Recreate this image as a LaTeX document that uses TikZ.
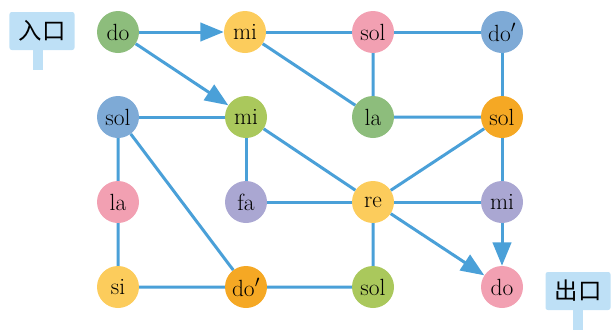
\documentclass[tikz,border=0pt]{standalone}
\usepackage{fontspec}
\newfontfamily\cjkfont{Noto Sans CJK SC}
\usetikzlibrary{arrows.meta}

\definecolor{linkblue}{RGB}{74,160,216}
\definecolor{tagblue}{RGB}{190,224,246}
\definecolor{cgreen}{RGB}{141,189,124}
\definecolor{cyellow}{RGB}{252,204,92}
\definecolor{cpink}{RGB}{242,160,178}
\definecolor{cblue}{RGB}{126,170,214}
\definecolor{clime}{RGB}{170,200,92}
\definecolor{corange}{RGB}{245,168,36}
\definecolor{clilac}{RGB}{170,167,210}

\tikzset{
    note/.style={circle, minimum size=1.26cm, inner sep=0pt,
        font=\fontsize{20}{22}\selectfont},
    link/.style={linkblue, line width=0.09cm},
    go/.style={link, -{Triangle[length=0.7cm,width=0.55cm]}},
    tag/.style={fill=tagblue, rounded corners=2pt, minimum width=1.95cm,
        minimum height=1.14cm, font=\cjkfont\fontsize{20}{22}\selectfont}
}

\begin{document}
\begin{tikzpicture}[x=0.03cm, y=-0.03cm]

    % Fix the frame to the size of the original picture
    \useasboundingbox (0, 0) rectangle (612, 330);

    % Entrance and exit labels with their small stems
    \fill[tagblue] (33, 45) rectangle (43, 70);
    \node[tag] (in) at (42, 31) {入口};
    \fill[tagblue] (573, 300) rectangle (583, 330);
    \node[tag] (out) at (578, 291) {出口};

    % First row of notes
    \node[note, fill=cgreen] (do1) at (118, 32) {do};
    \node[note, fill=cyellow] (mi1) at (245, 32) {mi};
    \node[note, fill=cpink] (sol1) at (373, 32) {sol};
    \node[note, fill=cblue] (dop1) at (502, 32) {do$'$};

    % Second row of notes
    \node[note, fill=cblue] (sol2) at (118, 117) {sol};
    \node[note, fill=clime] (mi2) at (246, 117) {mi};
    \node[note, fill=cgreen] (la2) at (373, 117) {la};
    \node[note, fill=corange] (sol3) at (502, 117) {sol};

    % Third row of notes
    \node[note, fill=cpink] (la1) at (118, 202) {la};
    \node[note, fill=clilac] (fa) at (246, 202) {fa};
    \node[note, fill=cyellow] (re) at (373, 202) {re};
    \node[note, fill=clilac] (mi3) at (502, 202) {mi};

    % Fourth row of notes
    \node[note, fill=cyellow] (si) at (118, 287) {si};
    \node[note, fill=corange] (dop2) at (246, 287) {do$'$};
    \node[note, fill=clime] (sol4) at (373, 287) {sol};
    \node[note, fill=cpink] (do2) at (502, 287) {do};

    % Plain connections between the notes
    \draw[link] (mi1) -- (sol1) -- (dop1) -- (sol3) -- (mi3) -- (re);
    \draw[link] (mi1) -- (la2) -- (sol1);
    \draw[link] (la2) -- (sol3) -- (re);
    \draw[link] (sol2) -- (mi2) -- (fa) -- (re);
    \draw[link] (mi2) -- (re) -- (sol4) -- (dop2) -- (si) -- (la1) -- (sol2);
    \draw[link] (sol2) -- (dop2);

    % Directed moves
    \draw[go] (do1) -- (mi1);
    \draw[go] (do1) -- (mi2);
    \draw[go] (re) -- (do2);
    \draw[go] (mi3) -- (do2);

\end{tikzpicture}
\end{document}
